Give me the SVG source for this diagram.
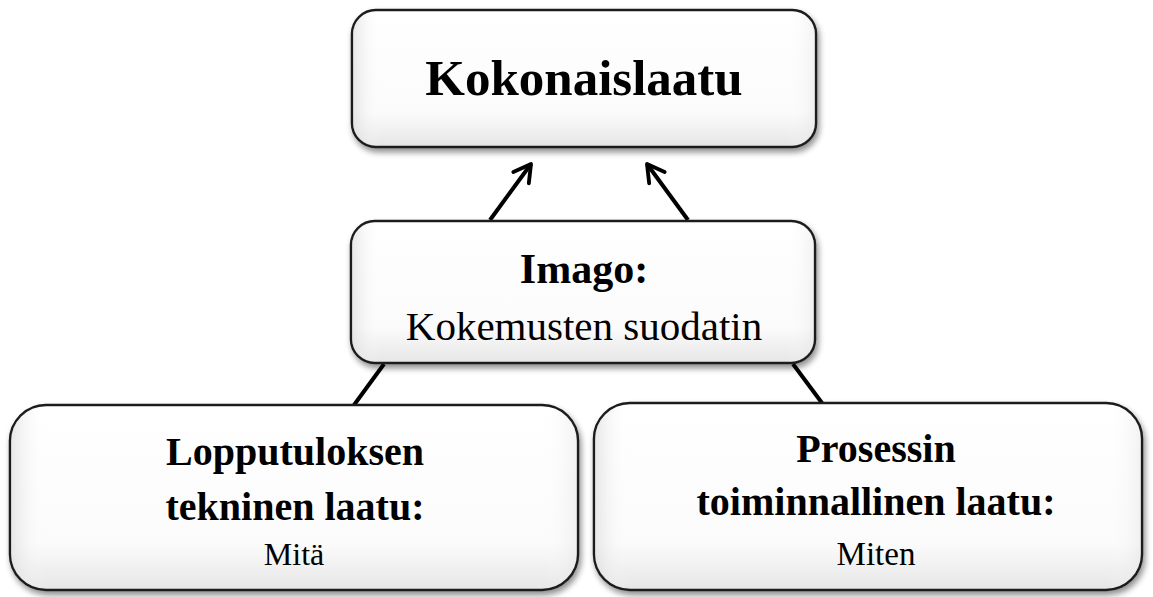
<svg xmlns="http://www.w3.org/2000/svg" width="1153" height="597" viewBox="0 0 1153 597">
  <defs>
    <linearGradient id="gv" x1="0" y1="0" x2="0" y2="1">
      <stop offset="0" stop-color="#ffffff"/>
      <stop offset="0.75" stop-color="#fbfbfb"/>
      <stop offset="1" stop-color="#e6e6e6"/>
    </linearGradient>
    <linearGradient id="gh" x1="0" y1="0" x2="1" y2="0">
      <stop offset="0" stop-color="#d8d8d8" stop-opacity="0.6"/>
      <stop offset="0.06" stop-color="#ffffff" stop-opacity="0"/>
      <stop offset="0.94" stop-color="#ffffff" stop-opacity="0"/>
      <stop offset="1" stop-color="#e0e0e0" stop-opacity="0.4"/>
    </linearGradient>
    <filter id="sh" x="-10%" y="-10%" width="120%" height="130%">
      <feGaussianBlur in="SourceAlpha" stdDeviation="3"/>
      <feOffset dx="2" dy="4" result="b"/>
      <feComponentTransfer><feFuncA type="linear" slope="0.45"/></feComponentTransfer>
      <feMerge><feMergeNode/><feMergeNode in="SourceGraphic"/></feMerge>
    </filter>
    <marker id="arr" viewBox="0 0 20 20" refX="17" refY="10" markerWidth="6" markerHeight="6" markerUnits="strokeWidth" orient="auto">
      <path d="M3,2 L17,10 L3,18" fill="none" stroke="#000" stroke-width="3.2" stroke-linecap="round" stroke-linejoin="round"/>
    </marker>
    <style>
      .box { fill: url(#gv); stroke: #1a1a1a; stroke-width: 2.5; }
      .bev { fill: url(#gh); stroke: none; }
      .t { font-family: "Liberation Serif", "Times New Roman", serif; fill: #000; text-anchor: middle; }
      .b { font-weight: bold; }
      .conn { stroke: #000; stroke-width: 4; fill: none; stroke-linecap: butt; }
    </style>
  </defs>

  <g id="connectors">
    <line class="conn" x1="490" y1="220" x2="531" y2="164" marker-end="url(#arr)"/>
    <line class="conn" x1="688" y1="220" x2="647" y2="164" marker-end="url(#arr)"/>
    <line class="conn" x1="384" y1="364" x2="354" y2="405"/>
    <line class="conn" x1="793" y1="364" x2="822" y2="403"/>
  </g>

  <g id="node-kokonaislaatu">
    <g filter="url(#sh)">
      <rect class="box" x="352" y="10" width="464" height="137" rx="24" ry="24"/>
    </g>
    <rect class="bev" x="353" y="11" width="462" height="135" rx="23" ry="23"/>
    <text class="t b" x="584" y="95" font-size="51">Kokonaislaatu</text>
  </g>

  <g id="node-imago">
    <g filter="url(#sh)">
      <rect class="box" x="351" y="221" width="464" height="142" rx="24" ry="24"/>
    </g>
    <rect class="bev" x="352" y="222" width="462" height="140" rx="23" ry="23"/>
    <text class="t b" x="584" y="283" font-size="42">Imago:</text>
    <text class="t" x="584" y="340" font-size="41">Kokemusten suodatin</text>
  </g>

  <g id="node-lopputulos">
    <g filter="url(#sh)">
      <rect class="box" x="10" y="405" width="568" height="185" rx="36" ry="36"/>
    </g>
    <rect class="bev" x="11" y="406" width="566" height="183" rx="35" ry="35"/>
    <text class="t b" x="295" y="465" font-size="40">Lopputuloksen</text>
    <text class="t b" x="295" y="520" font-size="40">tekninen laatu:</text>
    <text class="t" x="294" y="565" font-size="32">Mitä</text>
  </g>

  <g id="node-prosessi">
    <g filter="url(#sh)">
      <rect class="box" x="594" y="403" width="548" height="187" rx="36" ry="36"/>
    </g>
    <rect class="bev" x="595" y="404" width="546" height="185" rx="35" ry="35"/>
    <text class="t b" x="876" y="462" font-size="40">Prosessin</text>
    <text class="t b" x="876" y="515" font-size="40">toiminnallinen laatu:</text>
    <text class="t" x="876" y="565" font-size="33">Miten</text>
  </g>
</svg>
